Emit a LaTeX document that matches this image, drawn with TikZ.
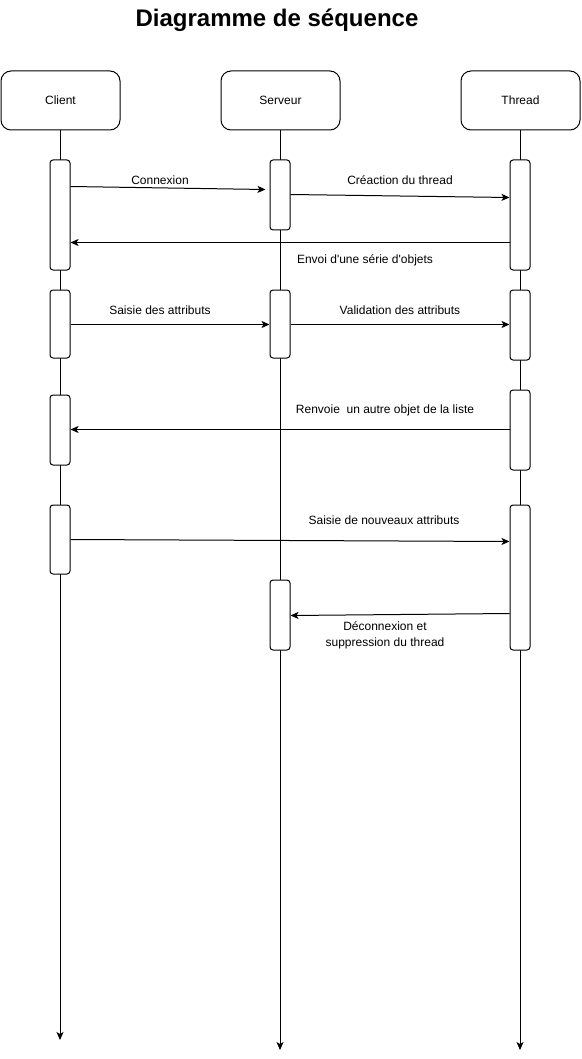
\documentclass[tikz,border=0pt]{standalone}
\usepackage{fontspec}
\setmainfont{Liberation Sans}[Ligatures=TeXOff]
\usetikzlibrary{arrows.meta}
\begin{document}
\begin{tikzpicture}[x=1pt,y=-1pt,
  tip/.style={-{Stealth[length=8pt,width=7pt,inset=2pt]}},
  actor/.style={draw, line width=1pt, rounded corners=10pt, minimum width=119pt, minimum height=59pt, inner sep=0pt, font=\fontsize{12}{14}\selectfont},
  act/.style={draw, fill=white, line width=1pt, rounded corners=3pt, minimum width=20pt, inner sep=0pt},
  life/.style={line width=1pt, tip},
  msg/.style={line width=1pt, tip},
  lbl/.style={font=\fontsize{12}{16}\selectfont, align=center, inner sep=0pt}]
\useasboundingbox (0,0) rectangle (581,1059);
\node[font=\bfseries\fontsize{24}{28}\selectfont] (title) at (277,20) {Diagramme de séquence};
\node[actor] (client) at (60.5,100.5) {Client};
\node[actor] (serveur) at (280.5,100.5) {Serveur};
\node[actor] (thread) at (520.5,100.5) {Thread};
\coordinate (cend) at (60,1040);
\coordinate (send) at (280,1050);
\coordinate (tend) at (520,1050);
\draw[life] (client.south -| cend) -- (cend);
\draw[life] (serveur.south -| send) -- (send);
\draw[life] (thread.south -| tend) -- (tend);
% activations
\node[act, minimum height=110pt] (a1) at (60,215) {};
\node[act, minimum height=68pt] (a2) at (60,324) {};
\node[act, minimum height=70pt] (a3) at (60,430) {};
\node[act, minimum height=69pt] (a4) at (60,539.5) {};
\node[act, minimum height=70pt] (s1) at (280,195) {};
\node[act, minimum height=68pt] (s2) at (280,324) {};
\node[act, minimum height=70pt] (s3) at (280,615) {};
\node[act, minimum height=110pt] (t1) at (520,215) {};
\node[act, minimum height=70pt] (t2) at (520,325) {};
\node[act, minimum height=80pt] (t3) at (520,430) {};
\node[act, minimum height=145pt] (t4) at (520,577.5) {};
% messages
\draw[msg] ([yshift=-27pt]a1.north east) -- ([yshift=-30pt,xshift=-4pt]s1.north west);
\draw[msg] ([yshift=-35pt]s1.north east) -- ([yshift=-38pt]t1.north west);
\draw[msg] ([yshift=-83pt]t1.north west) -- ([yshift=-83pt]a1.north east);
\draw[msg] ([yshift=-35pt]a2.north east) -- ([yshift=-35pt]s2.north west);
\draw[msg] ([yshift=-35pt]s2.north east) -- ([yshift=-35pt]t2.north west);
\draw[msg] ([yshift=-40pt]t3.north west) -- ([yshift=-35pt]a3.north east);
\draw[msg] ([yshift=-35pt]a4.north east) -- ([yshift=-37pt]t4.north west);
\draw[msg] ([yshift=-109pt]t4.north west) -- ([yshift=-36pt]s3.north east);
% labels
\node[lbl] (l1) at (160,180) {Connexion};
\node[lbl] (l2) at (400,180) {Créaction du thread};
\node[lbl] (l3) at (365,260) {Envoi d'une série d'objets};
\node[lbl] (l4) at (160,310) {Saisie des attributs};
\node[lbl] (l5) at (400,310) {Validation des attributs};
\node[lbl] (l6) at (385,410) {Renvoie\ \ un autre objet de la liste};
\node[lbl] (l7) at (384,520) {Saisie de nouveaux attributs};
\node[lbl] (l8) at (385,635) {Déconnexion et\\suppression du thread};
\end{tikzpicture}
\end{document}
